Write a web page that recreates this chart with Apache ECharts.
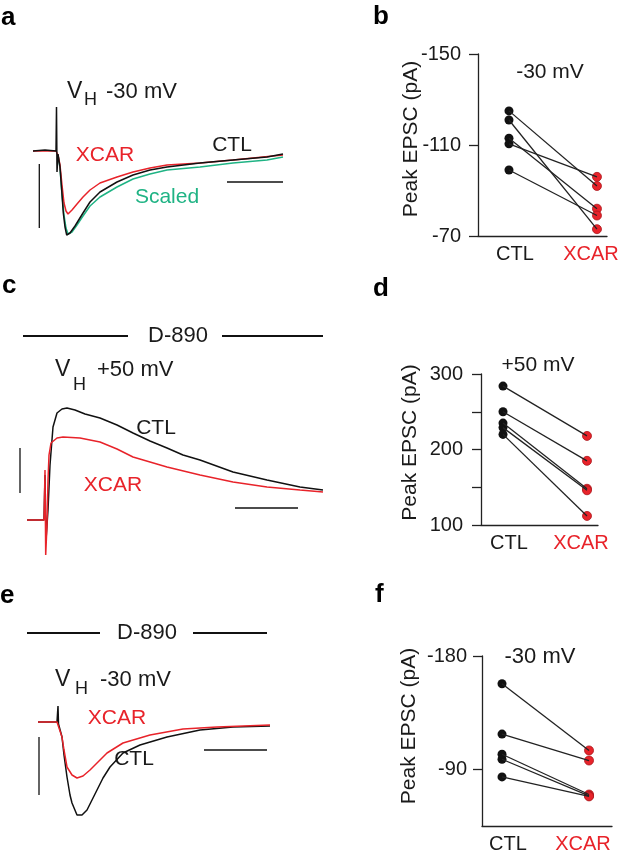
<!DOCTYPE html>
<html>
<head>
<meta charset="utf-8">
<script src="https://cdn.jsdelivr.net/npm/echarts@6.0.0/dist/echarts.min.js"></script>
<style>
  html, body { margin: 0; padding: 0; background: #fff; }
  #chart { width: 622px; height: 853px; }
</style>
</head>
<body>
<div id="chart"></div>
<script>
// trace values: [time (ms), current (pA)]
const traceA_ctl = [[0,0],[12,1],[23,0],[23.5,44],[24,-21],[25,-3],[27,-16],[28.7,-39],[30.3,-62],[32,-76],[33.7,-84],[37,-82],[42,-75],[50,-62],[57,-51],[67,-41],[84,-31],[100,-24],[117,-19],[134,-16],[167,-12],[200,-9],[234,-6],[250,-3]];
const traceA_xcar = [[0,0],[12,0],[23,0],[25,-4],[27,-14],[29,-34],[31,-52],[33,-60],[35,-63],[39,-59],[44,-53],[50,-46],[57,-39],[67,-32],[84,-26],[100,-21],[117,-17],[134,-14],[167,-12],[200,-9],[250,-4]];
const traceA_scaled = [[25,-4],[27,-17],[29,-44],[31,-64],[33,-77],[35,-83],[39,-81],[44,-74],[50,-65],[57,-55],[67,-46],[84,-36],[100,-28],[117,-23],[134,-19],[167,-16],[200,-12],[234,-9],[250,-6]];

const traceC_ctl = [[0,0],[17,0],[18,45],[19,-20],[21,10],[23,55],[26,93],[30,107],[35,111],[40,112],[48,110],[58,106],[73,102],[90,95],[106,87],[123,79],[140,72],[156,65],[173,60],[206,48],[240,40],[273,33],[296,30]];
const traceC_xcar = [[0,0],[17,0],[18,50],[18.7,-35],[20,-5],[21,40],[22,65],[24,77],[30,82],[36,83],[53,82],[73,78],[90,71],[106,63],[123,58],[140,53],[173,45],[206,38],[240,33],[273,30],[296,28]];

const traceE_ctl = [[0,0],[19,0],[20,16],[20.5,-2],[24,-15],[26,-33],[29,-55],[32,-73],[34,-81],[39,-93],[44,-93],[49,-88],[54,-78],[59,-68],[65,-56],[72,-45],[85,-31],[102,-23],[129,-15],[162,-8],[195,-5],[232,-4]];
const traceE_xcar = [[0,0],[19,0],[24,-15],[26,-28],[29,-45],[34,-53],[39,-56],[45,-54],[52,-48],[60,-40],[69,-31],[85,-21],[112,-13],[145,-7],[179,-5],[232,-3]];

// scale bars in trace units
const barA_v = [[6.3,-13],[6.3,-77]];
const barA_h = [[194,-31],[250,-31]];
const barC_v = [[-7,72],[-7,27]];
const barC_h = [[208,12],[271,12]];
const barE_v = [[1,-15],[1,-73]];
const barE_h = [[166,-28],[229,-28]];

// peak EPSC (pA), paired CTL -> XCAR
const groups = ['CTL', 'XCAR'];
const bCtl = [-125, -121, -113, -110.5, -99];
const bXcar = [-92, -73, -82, -96, -79];
const dCtl = [284, 250, 235, 229, 220];
const dXcar = [218, 185, 148, 146, 112];
const fCtl = [-158, -118, -102, -98, -84];
const fXcar = [-105, -97, -70, -69, -68.5];

const FONT = '"Liberation Sans", Arial, Helvetica, sans-serif';
const BLACK = '#1a1a1a';
const RED = '#e8232a';
const GREEN = '#1fb384';

const myChart = echarts.init(document.getElementById('chart'));

function traceSeries(idx, data, color, width) {
    return {
        type: 'line', xAxisIndex: idx, yAxisIndex: idx, data: data,
        symbol: 'none', silent: true,
        lineStyle: { color: color, width: width || 1.5 }
    };
}

function pairedSeries(idx, ctl, xcar) {
    const out = [];
    ctl.forEach((v, i) => {
        out.push({
            type: 'line', xAxisIndex: idx, yAxisIndex: idx,
            data: [[0, v], [1, xcar[i]]],
            symbol: 'none',
            lineStyle: { color: '#222', width: 1.3 }
        });
    });
    out.push({
        type: 'scatter', xAxisIndex: idx, yAxisIndex: idx,
        data: ctl.map(v => [0, v]), symbolSize: 9,
        itemStyle: { color: '#111', opacity: 1 }
    });
    out.push({
        type: 'scatter', xAxisIndex: idx, yAxisIndex: idx,
        data: xcar.map(v => [1, v]), symbolSize: 9,
        itemStyle: { color: RED, borderColor: '#a8161c', borderWidth: 0.8, opacity: 1 }
    });
    return out;
}

function hiddenAxis(idx, min, max) {
    return { gridIndex: idx, type: 'value', min: min, max: max, show: false };
}

function pairX(idx, min, max) {
    return {
        gridIndex: idx, type: 'value', min: min, max: max,
        axisLine: { show: true, onZero: false, lineStyle: { color: '#222', width: 1.3 } },
        axisTick: { show: false },
        splitLine: { show: false },
        axisLabel: {
            customValues: [0, 1], margin: 8,
            formatter: v => v === 0 ? '{c|' + groups[0] + '}' : '{x|' + groups[1] + '}',
            rich: {
                c: { color: BLACK, fontSize: 20, fontFamily: FONT, padding: [0, 0, 0, 12] },
                x: { color: RED, fontSize: 20, fontFamily: FONT, padding: [0, 12, 0, 0] }
            }
        }
    };
}

function pairY(idx, min, max, inverse, ticks, labels, gap, shift, margin) {
    return {
        gridIndex: idx, type: 'value', min: min, max: max, inverse: inverse,
        name: 'Peak EPSC (pA)', nameLocation: 'middle', nameGap: gap, nameRotate: 90,
        nameMoveOverlap: false,
        nameTextStyle: { fontSize: 21, color: BLACK, fontFamily: FONT, padding: [0, 0, 0, shift * 2] },
        axisLine: { show: true, onZero: false, lineStyle: { color: '#222', width: 1.3 } },
        axisTick: { show: true, customValues: ticks, length: 9, lineStyle: { color: '#222', width: 1.3 } },
        axisLabel: { customValues: labels, margin: margin, fontSize: 20, color: BLACK, fontFamily: FONT },
        splitLine: { show: false }
    };
}

function txt(x, y, s, size, color, align, weight) {
    return {
        type: 'text', x: x, y: y, silent: true,
        style: {
            text: s, fontSize: size, fontFamily: FONT, fontWeight: weight || 'normal',
            fill: color, align: align || 'left', verticalAlign: 'middle'
        }
    };
}

function hline(x1, x2, y) {
    return {
        type: 'line', silent: true,
        shape: { x1: x1, y1: y, x2: x2, y2: y },
        style: { stroke: '#111', lineWidth: 2 }
    };
}

const grids = [
    { left: 33, top: 95, width: 255, height: 150 },
    { left: 478, top: 54, width: 129, height: 182 },
    { left: 15, top: 400, width: 310, height: 160 },
    { left: 481, top: 374, width: 117, height: 151 },
    { left: 30, top: 700, width: 245, height: 125 },
    { left: 482, top: 656, width: 130, height: 170 }
].map(g => Object.assign({ outerBoundsMode: 'none', containLabel: false }, g));

const option = {
    animation: false,
    backgroundColor: '#fff',
    grid: grids,
    xAxis: [
        hiddenAxis(0, 0, 255),
        pairX(1, -0.352, 1.114),
        hiddenAxis(2, -12, 298),
        pairX(3, -0.262, 1.131),
        hiddenAxis(4, -8, 237),
        pairX(5, -0.23, 1.264)
    ],
    yAxis: [
        hiddenAxis(0, -94, 56),
        pairY(1, -150, -70, true, [-150, -110, -70], [-150, -110, -70], 56, 6, 17),
        hiddenAxis(2, -40, 120),
        pairY(3, 100, 300, false, [100, 150, 200, 250, 300], [100, 200, 300], 60, 7, 18),
        hiddenAxis(4, -103, 22),
        pairY(5, -180, -45, true, [-180, -90], [-180, -90], 62, 15, 15)
    ],
    series: [
        traceSeries(0, traceA_scaled, GREEN),
        traceSeries(0, traceA_xcar, RED),
        traceSeries(0, traceA_ctl, '#111'),
        traceSeries(0, barA_v, '#111', 1.3),
        traceSeries(0, barA_h, '#111', 1.3),
        traceSeries(2, traceC_ctl, '#111'),
        traceSeries(2, traceC_xcar, RED),
        traceSeries(2, barC_v, '#111', 1.3),
        traceSeries(2, barC_h, '#111', 1.3),
        traceSeries(4, traceE_ctl, '#111'),
        traceSeries(4, traceE_xcar, RED),
        traceSeries(4, barE_v, '#111', 1.3),
        traceSeries(4, barE_h, '#111', 1.3)
    ].concat(pairedSeries(1, bCtl, bXcar), pairedSeries(3, dCtl, dXcar), pairedSeries(5, fCtl, fXcar)),
    graphic: [
        // panel letters
        txt(1, 18, 'a', 26, '#000', 'left', 'bold'),
        txt(373, 17, 'b', 26, '#000', 'left', 'bold'),
        txt(2, 286, 'c', 26, '#000', 'left', 'bold'),
        txt(373, 289, 'd', 26, '#000', 'left', 'bold'),
        txt(0, 596, 'e', 26, '#000', 'left', 'bold'),
        txt(375, 595, 'f', 26, '#000', 'left', 'bold'),
        // panel a
        txt(67, 92, 'V', 23, BLACK),
        txt(84, 100, 'H', 18, BLACK),
        txt(106, 92, '-30 mV', 22, BLACK),
        txt(105, 155, 'XCAR', 21, RED, 'center'),
        txt(232, 145, 'CTL', 21, BLACK, 'center'),
        txt(167, 197, 'Scaled', 21, GREEN, 'center'),
        // panel b
        txt(550, 72, '-30 mV', 21, BLACK, 'center'),
        // panel c
        hline(23, 128, 336),
        txt(178, 336, 'D-890', 22, BLACK, 'center'),
        hline(222, 323, 336),
        txt(55, 370, 'V', 23, BLACK),
        txt(73, 385, 'H', 18, BLACK),
        txt(97, 370, '+50 mV', 22, BLACK),
        txt(156, 428, 'CTL', 21, BLACK, 'center'),
        txt(113, 485, 'XCAR', 21, RED, 'center'),
        // panel d
        txt(538, 365, '+50 mV', 21, BLACK, 'center'),
        // panel e
        hline(27, 100, 633),
        txt(147, 633, 'D-890', 22, BLACK, 'center'),
        hline(193, 267, 633),
        txt(55, 680, 'V', 23, BLACK),
        txt(75, 689, 'H', 18, BLACK),
        txt(100, 680, '-30 mV', 22, BLACK),
        txt(117, 718, 'XCAR', 21, RED, 'center'),
        txt(134, 759, 'CTL', 21, BLACK, 'center'),
        // panel f
        txt(540, 657, '-30 mV', 22, BLACK, 'center')
    ]
};

myChart.setOption(option);

window.addEventListener('resize', function() {
    myChart.resize();
});
</script>
</body>
</html>
